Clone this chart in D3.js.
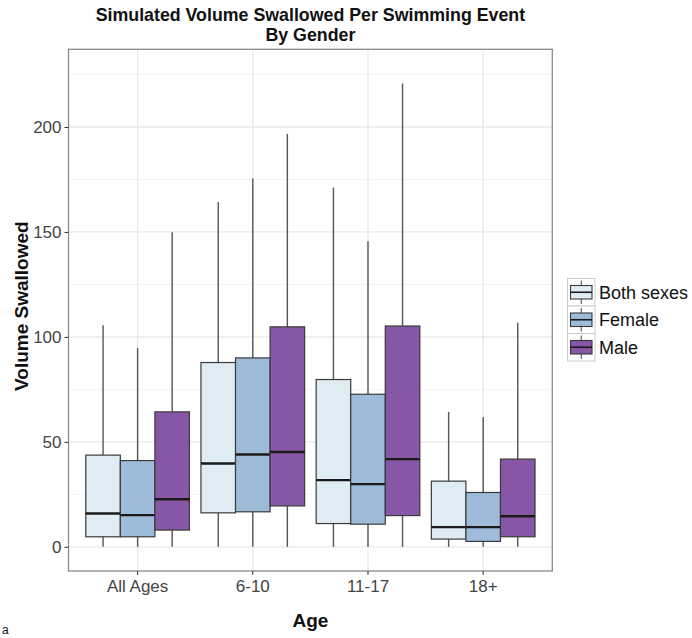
<!DOCTYPE html>
<html>
<head>
<meta charset="utf-8">
<script src="https://cdn.jsdelivr.net/npm/d3@7"></script>
<style>
  html, body { margin: 0; padding: 0; background: #fff; }
  svg { display: block; }
  text { font-family: "Liberation Sans", Arial, sans-serif; }
</style>
</head>
<body>
<svg id="chart" width="692" height="638"></svg>
<script>
// ---- Data ----
const ages = ["All Ages", "6-10", "11-17", "18+"];
const groups = ["Both sexes", "Female", "Male"];
const colors = ["#e0ecf4", "#9ebcda", "#8856a7"];

// per group (rows) by age (columns)
const whiskerLow = [
  [0, 0, 0, 0],
  [0, 0, 0, 0],
  [0, 0, 0, 0]
];
const q1 = [
  [4.8, 16.2, 11.1, 3.7],
  [4.8, 16.7, 10.8, 2.6],
  [8.0, 19.5, 14.9, 4.8]
];
const medians = [
  [15.9, 39.7, 31.8, 9.4],
  [15.1, 44.0, 29.9, 9.4],
  [22.7, 45.2, 41.8, 14.6]
];
const q3 = [
  [43.7, 87.8, 79.7, 31.3],
  [41.1, 90.0, 72.7, 25.9],
  [64.3, 104.8, 105.2, 41.8]
];
const whiskerHigh = [
  [105.6, 164.3, 171.1, 64.3],
  [94.8, 175.4, 145.6, 61.9],
  [149.9, 196.7, 220.7, 106.7]
];
const yTicks = [0, 50, 100, 150, 200];
const yMinor = [25, 75, 125, 175, 225];

// ---- Layout ----
const svg = d3.select("#chart");
const panel = { left: 68.5, right: 552.3, top: 49.3, bottom: 571 };

const x = d3.scaleBand().domain(ages)
  .range([panel.left, panel.right])
  .paddingInner(0).paddingOuter(0.1);
const step = x.step();
const xg = d3.scaleBand().domain(groups)
  .range([-0.45 * step, 0.45 * step]).padding(0);
const y = d3.scaleLinear().domain([-11.5, 237])
  .range([panel.bottom, panel.top]);

// panel background
svg.append("rect")
  .attr("x", panel.left).attr("y", panel.top)
  .attr("width", panel.right - panel.left)
  .attr("height", panel.bottom - panel.top)
  .attr("fill", "#fff");

// gridlines
const grid = svg.append("g");
grid.selectAll(".minor").data(yMinor).enter().append("line")
  .attr("x1", panel.left).attr("x2", panel.right)
  .attr("y1", d => y(d)).attr("y2", d => y(d))
  .attr("stroke", "#f4f4f4").attr("stroke-width", 1);
grid.selectAll(".major").data(yTicks).enter().append("line")
  .attr("x1", panel.left).attr("x2", panel.right)
  .attr("y1", d => y(d)).attr("y2", d => y(d))
  .attr("stroke", "#e8e8e8").attr("stroke-width", 1.3);
grid.selectAll(".vmajor").data(ages).enter().append("line")
  .attr("x1", d => x(d) + step / 2).attr("x2", d => x(d) + step / 2)
  .attr("y1", panel.top).attr("y2", panel.bottom)
  .attr("stroke", "#e8e8e8").attr("stroke-width", 1.3);

// boxes
const boxes = [];
groups.forEach((g, gi) => {
  ages.forEach((a, ai) => {
    boxes.push({
      age: a, group: g, gi: gi,
      lo: whiskerLow[gi][ai], q1: q1[gi][ai], med: medians[gi][ai],
      q3: q3[gi][ai], hi: whiskerHigh[gi][ai]
    });
  });
});
const bw = xg.bandwidth();
const bg = svg.append("g");
const bsel = bg.selectAll("g.box").data(boxes).enter().append("g")
  .attr("transform", d => `translate(${x(d.age) + step / 2 + xg(d.group)},0)`);
bsel.append("line")
  .attr("x1", bw / 2).attr("x2", bw / 2)
  .attr("y1", d => y(d.hi)).attr("y2", d => y(d.q3))
  .attr("stroke", "#555").attr("stroke-width", 1.4);
bsel.append("line")
  .attr("x1", bw / 2).attr("x2", bw / 2)
  .attr("y1", d => y(d.q1)).attr("y2", d => y(d.lo))
  .attr("stroke", "#555").attr("stroke-width", 1.4);
bsel.append("rect")
  .attr("x", 0).attr("width", bw)
  .attr("y", d => y(d.q3)).attr("height", d => y(d.q1) - y(d.q3))
  .attr("fill", d => colors[d.gi])
  .attr("stroke", "#3a3a3a").attr("stroke-width", 1.2);
bsel.append("line")
  .attr("x1", 0).attr("x2", bw)
  .attr("y1", d => y(d.med)).attr("y2", d => y(d.med))
  .attr("stroke", "#1a1a1a").attr("stroke-width", 2.4);

// panel border
svg.append("rect")
  .attr("x", panel.left).attr("y", panel.top)
  .attr("width", panel.right - panel.left)
  .attr("height", panel.bottom - panel.top)
  .attr("fill", "none").attr("stroke", "#8a8a8a").attr("stroke-width", 1.3);

// axes
const yAxis = svg.append("g")
  .attr("transform", `translate(${panel.left},0)`)
  .call(d3.axisLeft(y).tickValues(yTicks).tickSize(4).tickPadding(3));
yAxis.select(".domain").remove();
yAxis.selectAll(".tick line").attr("stroke", "#333");
yAxis.selectAll(".tick text")
  .attr("fill", "#444").style("font-size", "17px")
  .style("font-family", "'Liberation Sans', Arial, sans-serif");

const xAxis = svg.append("g")
  .attr("transform", `translate(0,${panel.bottom})`)
  .call(d3.axisBottom(x).tickSize(4).tickPadding(5));
xAxis.select(".domain").remove();
xAxis.selectAll(".tick line").attr("stroke", "#333");
xAxis.selectAll(".tick text")
  .attr("fill", "#444").style("font-size", "17px")
  .style("font-family", "'Liberation Sans', Arial, sans-serif");

// titles
const cx = (panel.left + panel.right) / 2;
svg.append("text").attr("x", cx).attr("y", 21)
  .attr("text-anchor", "middle").attr("font-weight", "bold")
  .attr("font-size", 17.8).attr("fill", "#111")
  .text("Simulated Volume Swallowed Per Swimming Event");
svg.append("text").attr("x", cx).attr("y", 41)
  .attr("text-anchor", "middle").attr("font-weight", "bold")
  .attr("font-size", 17.8).attr("fill", "#111")
  .text("By Gender");
svg.append("text").attr("x", cx).attr("y", 627)
  .attr("text-anchor", "middle").attr("font-weight", "bold")
  .attr("font-size", 19).attr("fill", "#111")
  .text("Age");
svg.append("text")
  .attr("transform", `translate(28,${(panel.top + panel.bottom) / 2 - 4}) rotate(-90)`)
  .attr("text-anchor", "middle").attr("font-weight", "bold")
  .attr("font-size", 19).attr("fill", "#111")
  .text("Volume Swallowed");

// legend
const key = 27.5;
const lg = svg.append("g").attr("transform", "translate(567.5,278.5)");
const items = lg.selectAll("g").data(groups).enter().append("g")
  .attr("transform", (d, i) => `translate(0,${i * key})`);
items.append("rect").attr("width", key).attr("height", key)
  .attr("fill", "#fff").attr("stroke", "#cccccc").attr("stroke-width", 1);
items.append("line").attr("x1", key / 2).attr("x2", key / 2)
  .attr("y1", 2).attr("y2", key - 2)
  .attr("stroke", "#555").attr("stroke-width", 1.1);
items.append("rect").attr("x", 3).attr("y", 7)
  .attr("width", key - 6).attr("height", key - 14)
  .attr("fill", (d, i) => colors[i])
  .attr("stroke", "#3a3a3a").attr("stroke-width", 1.1);
items.append("line").attr("x1", 3).attr("x2", key - 3)
  .attr("y1", key / 2).attr("y2", key / 2)
  .attr("stroke", "#1a1a1a").attr("stroke-width", 1.6);
items.append("text").attr("x", key + 4).attr("y", key / 2 + 6.5)
  .attr("font-size", 18).attr("fill", "#111")
  .text(d => d);

// small letter at bottom-left corner
svg.append("text").attr("x", 2).attr("y", 634)
  .attr("font-size", 12).attr("fill", "#111").text("a");
</script>
</body>
</html>
